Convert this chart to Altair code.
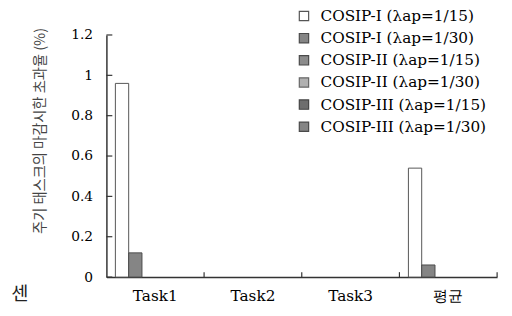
import altair as alt
import pandas as pd

categories = ["Task1", "Task2", "Task3", "평균"]
series = [
    "COSIP-I (λap=1/15)",
    "COSIP-I (λap=1/30)",
    "COSIP-II (λap=1/15)",
    "COSIP-II (λap=1/30)",
    "COSIP-III (λap=1/15)",
    "COSIP-III (λap=1/30)",
]
values = {
    "COSIP-I (λap=1/15)": [0.96, 0.0, 0.0, 0.54],
    "COSIP-I (λap=1/30)": [0.12, 0.0, 0.0, 0.06],
    "COSIP-II (λap=1/15)": [0.0, 0.0, 0.0, 0.0],
    "COSIP-II (λap=1/30)": [0.0, 0.0, 0.0, 0.0],
    "COSIP-III (λap=1/15)": [0.0, 0.0, 0.0, 0.0],
    "COSIP-III (λap=1/30)": [0.0, 0.0, 0.0, 0.0],
}
y_ticks = [0, 0.2, 0.4, 0.6, 0.8, 1.0, 1.2]
fills = ["#ffffff", "#858585", "#8c8c8c", "#b0b0b0", "#6e6e6e", "#858585"]
strokes = ["#555555", "#4a4a4a", "#4a4a4a", "#666666", "#444444", "#4a4a4a"]

rows = []
for s in series:
    for c, v in zip(categories, values[s]):
        rows.append({"cat": c, "series": s, "val": v})
df = pd.DataFrame(rows)

serif = "DejaVu Serif"
kr = "Noto Sans CJK KR"

x_scale = alt.Scale(paddingInner=0, paddingOuter=0)
y_scale = alt.Scale(domain=[0, 1.2], nice=False)

legend_kw = dict(title=None, orient="none", legendX=193, legendY=-27,
                 symbolType="square", symbolSize=90, symbolStrokeWidth=1.2,
                 labelFont=serif, labelFontSize=15.5, labelColor="#000",
                 rowPadding=5.5, labelOffset=9, labelLimit=300)

bars = alt.Chart(df).mark_bar(strokeWidth=1).encode(
    x=alt.X("cat:N", sort=categories, scale=x_scale,
            axis=alt.Axis(title=None, ticks=False, labelAngle=0, labelFont=serif,
                          labelFontSize=15.5, labelColor="#000", labelPadding=12,
                          domainColor="#333", domainWidth=1.5)),
    xOffset=alt.XOffset("series:N", sort=series,
                        scale=alt.Scale(paddingOuter=0.675, paddingInner=0)),
    y=alt.Y("val:Q", scale=y_scale,
            axis=alt.Axis(values=y_ticks, format="~g", ticks=False, grid=False,
                          labelFont=serif, labelFontSize=14, labelColor="#000",
                          labelPadding=14, domainColor="#333", domainWidth=1.5,
                          title="주기 태스크의 마감시한 초과율 (%)", titleFont=kr,
                          titleFontSize=14.5, titleFontWeight="normal", titleColor="#444",
                          titleX=-67, titleY=97, titleAlign="center",
                          titleBaseline="middle", titleAngle=270)),
    fill=alt.Fill("series:N", sort=series,
                  scale=alt.Scale(domain=series, range=fills),
                  legend=alt.Legend(**legend_kw)),
    stroke=alt.Stroke("series:N", sort=series,
                      scale=alt.Scale(domain=series, range=strokes),
                      legend=alt.Legend(**legend_kw)),
    opacity=alt.condition("datum.val > 0", alt.value(1), alt.value(0)),
)

y_tick_rules = alt.Chart(pd.DataFrame({"t": y_ticks})).mark_rule(
    color="#333", strokeWidth=1.2
).encode(y=alt.Y("t:Q", scale=y_scale), x=alt.value(0), x2=alt.value(6))

x_tick_rules = alt.Chart(pd.DataFrame({"cat": categories})).mark_rule(
    color="#333", strokeWidth=1.2
).encode(x=alt.X("cat:N", sort=categories, scale=x_scale, bandPosition=1),
         y=alt.value(246), y2=alt.value(241))

stray = alt.Chart(pd.DataFrame({"t": ["센"]})).mark_text(
    font=kr, fontSize=19, color="#222", align="center", baseline="middle"
).encode(text="t:N", x=alt.value(-88), y=alt.value(263))

chart = alt.layer(bars, y_tick_rules, x_tick_rules, stray).properties(
    width=397, height=246,
    autosize=alt.AutoSizeParams(type="none"),
    padding={"left": 100, "top": 25, "right": 7, "bottom": 29},
).configure_view(strokeWidth=0)

chart.save("out.html", embed_options={"renderer": "svg", "actions": False})
